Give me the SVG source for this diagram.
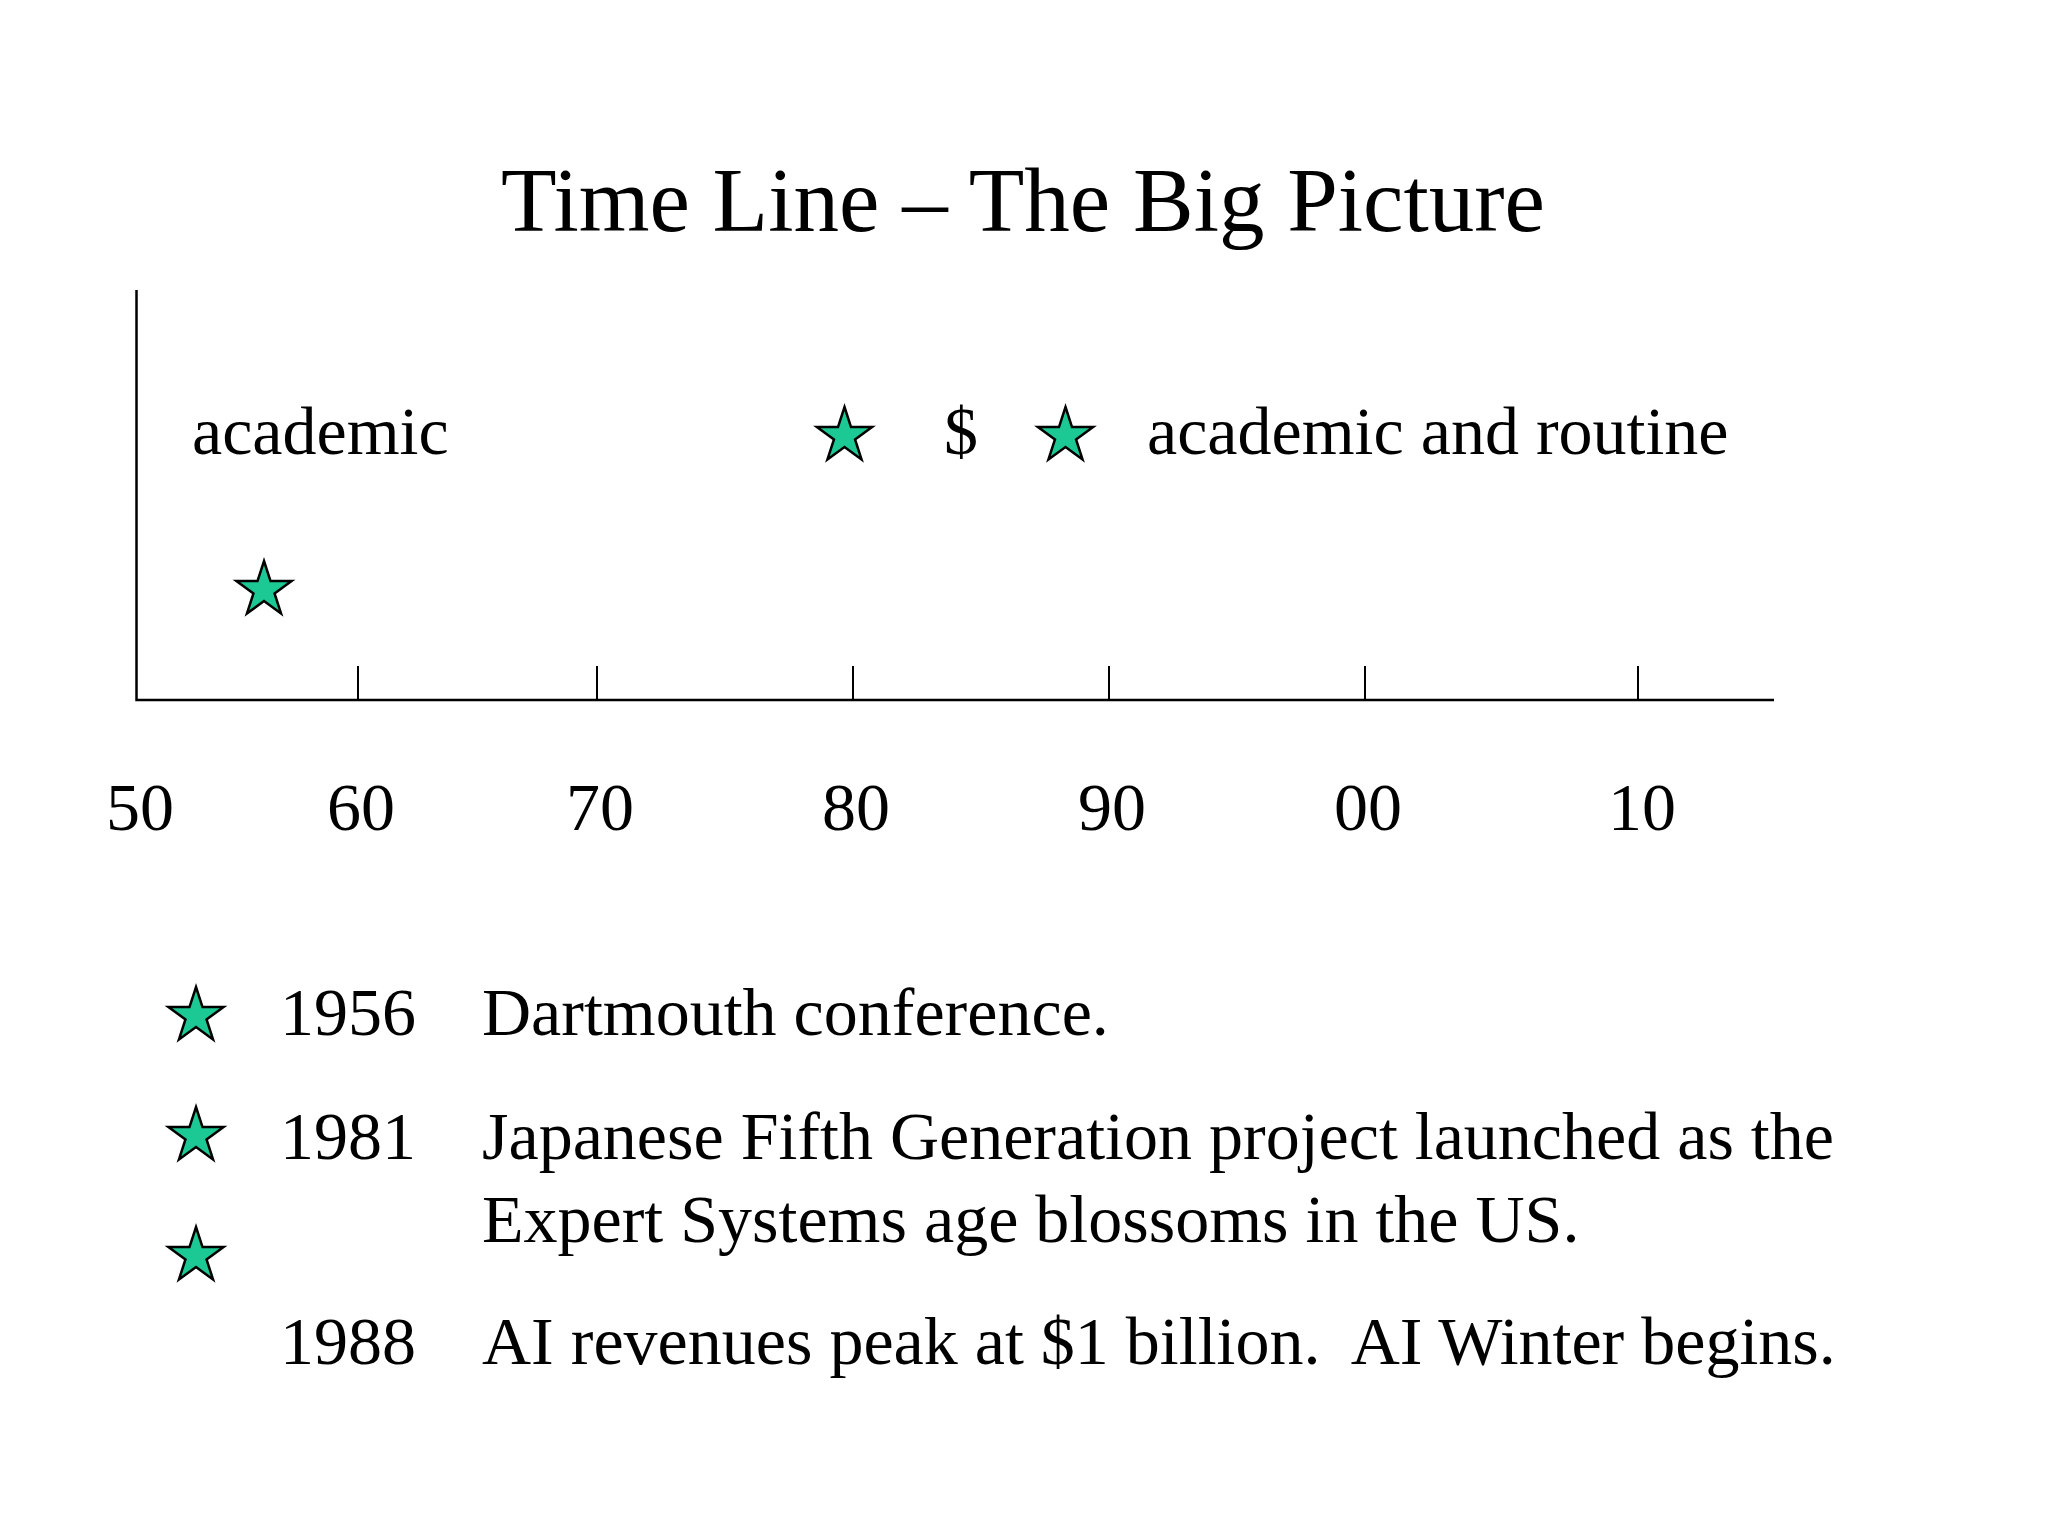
<svg xmlns="http://www.w3.org/2000/svg" width="2048" height="1536" viewBox="0 0 2048 1536">
<style>
text{font-family:"Liberation Serif","Times New Roman",serif;fill:#000;white-space:pre}
.t{font-size:91px}
.b{font-size:68px}
.ax{stroke:#000;stroke-width:2.5;fill:none}
.tick{stroke:#000;stroke-width:2;fill:none}
.star{fill:#1cc894;stroke:#000;stroke-width:2.5;stroke-linejoin:miter}
</style>
<defs>
<polygon id="star" class="star" points="0,-29 6.51,-8.96 27.58,-8.96 10.54,3.42 17.05,23.46 0,11.08 -17.05,23.46 -10.54,3.42 -27.58,-8.96 -6.51,-8.96"/>
</defs>
<rect width="2048" height="1536" fill="#fff"/>
<text id="title" class="t" x="1023" y="231" text-anchor="middle">Time Line – The Big Picture</text>
<g id="axes">
<path class="ax" d="M136.5,290 V700 H1774"/>
<path class="tick" d="M358,666V700M597,666V700M853,666V700M1109,666V700M1365,666V700M1638,666V700"/>
</g>
<g id="axis-labels" class="b" text-anchor="middle">
<text x="140" y="830">50</text>
<text x="361" y="830">60</text>
<text x="600" y="830">70</text>
<text x="856" y="830">80</text>
<text x="1112" y="830">90</text>
<text x="1368" y="830">00</text>
<text x="1642" y="830">10</text>
</g>
<g id="chart-labels" class="b">
<text x="192" y="454">academic</text>
<text x="944" y="454">$</text>
<text x="1147" y="454">academic and routine</text>
</g>
<g id="chart-stars">
<use href="#star" x="264" y="590"/>
<use href="#star" x="844.5" y="436"/>
<use href="#star" x="1065.5" y="436"/>
</g>
<g id="list-stars">
<use href="#star" x="196" y="1016"/>
<use href="#star" x="196" y="1136"/>
<use href="#star" x="196" y="1256"/>
</g>
<g id="list" class="b">
<text x="280" y="1035">1956</text>
<text x="482" y="1035">Dartmouth conference.</text>
<text x="280" y="1159">1981</text>
<text x="482" y="1159">Japanese Fifth Generation project launched as the</text>
<text x="482" y="1242">Expert Systems age blossoms in the US.</text>
<text x="280" y="1364">1988</text>
<text x="482" y="1364">AI revenues peak at $1 billion.  AI Winter begins.</text>
</g>
</svg>
